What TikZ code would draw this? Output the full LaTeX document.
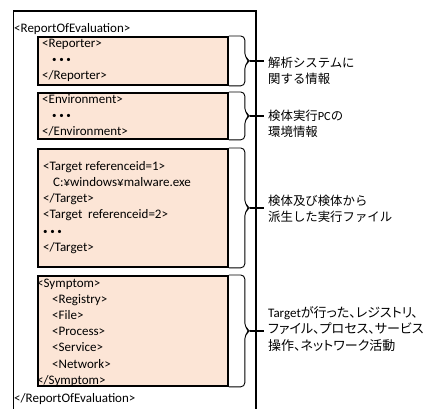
\documentclass[tikz,border=0pt]{standalone}
\usepackage{fontspec}
\setmainfont{Carlito}
\newfontfamily\jp{Noto Sans CJK JP}
\newfontfamily\jpp[RawFeature=+palt]{Noto Sans CJK JP}
\usetikzlibrary{calc}
\definecolor{peach}{RGB}{252,229,214}
\newcommand\threedots{{\fontsize{9}{9}\selectfont \raisebox{0.6pt}{•\hspace{2.6pt}•\hspace{2.6pt}•}}}
\begin{document}
\begin{tikzpicture}[x=1pt,y=-1pt,
  outerbox/.style={draw=black,line width=1.5pt,minimum width=242.5pt,minimum height=400pt,anchor=north west,inner sep=0pt},
  ibox/.style={draw=black,line width=1.8pt,fill=peach,minimum width=190pt,anchor=north west,inner sep=0pt},
  code/.style={font=\fontsize{13}{16.2}\selectfont,align=left,anchor=north west,inner sep=0pt},
  note/.style={font=\fontsize{12.4}{16}\selectfont,align=left,anchor=west,inner sep=0pt},
  brc/.style={draw=black,line width=0.9pt,rounded corners=4pt},
  tick/.style={draw=black,line width=1.2pt}]
\useasboundingbox (0,0) rectangle (428,408);
\node[outerbox] (report) at (12.5,10) {};
\node[ibox,minimum height=48pt] (rep) at (37,36) {};
\node[ibox,minimum height=46pt] (env) at (37,92) {};
\node[ibox,minimum height=118pt] (tgt) at (37,148) {};
\node[ibox,minimum height=110pt] (sym) at (37,275) {};
% texts
\node[code] (t0) at (14,23) {<ReportOfEvaluation>};
\node[code] (t1) at (42,38.5) {<Reporter>\\\hspace*{10pt}\threedots\\</Reporter>};
\node[code] (t2) at (42,94) {<Environment>\\\hspace*{10pt}\threedots\\</Environment>};
\node[code] (t3) at (43,161) {<Target referenceid=1>\\\hspace*{10pt}C:¥windows¥malware.exe\\</Target>\\<Target\ \ referenceid=2>\\\threedots\\</Target>};
\node[code] (t4) at (37,278.5) {<Symptom>\\\hspace*{15pt}<Registry>\\\hspace*{15pt}<File>\\\hspace*{15pt}<Process>\\\hspace*{15pt}<Service>\\\hspace*{15pt}<Network>\\</Symptom>};
\node[code] (t5) at (14,393) {</ReportOfEvaluation>};
% braces
\foreach \b/\n in {rep/1,env/2,tgt/3,sym/4}{
  \draw[brc] (\b.north east) -- ($(\b.north east)+(16,0)$) -- ($(\b.east)+(16,-4)$) -- ($(\b.east)+(21,0)$) -- ($(\b.east)+(16,4)$) -- ($(\b.south east)+(16,0)$) -- (\b.south east);
  \coordinate (tip\n) at ($(\b.east)+(21,0)$);
  \coordinate (end\n) at ($(\b.east)+(35,0)$);
  \draw[tick] (tip\n) -- (end\n);
}
\node[note] (n1) at (268,70.5) {{\jp 解析システムに}\\{\jp 関する情報}};
\node[note] (n2) at (268,124) {{\jp 検体実行}PC{\jp の}\\{\jp 環境情報}};
\node[note] (n3) at (268,208.5) {{\jp 検体及び検体から}\\{\jp 派生した実行ファイル}};
\node[note,font=\fontsize{13}{16.3}\selectfont] (n4) at (268,329) {Target{\jpp が行った、レジストリ、}\\{\jpp ファイル、プロセス、サービス}\\{\jpp 操作、ネットワーク活動}};
\end{tikzpicture}
\end{document}
